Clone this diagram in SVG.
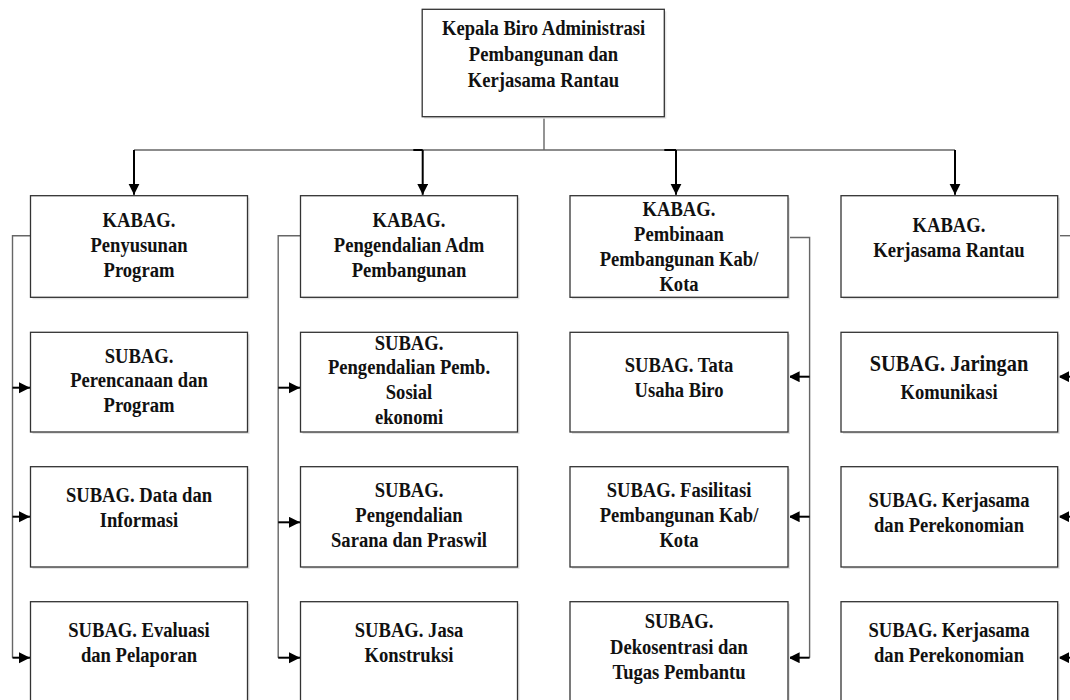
<svg xmlns="http://www.w3.org/2000/svg" width="1070" height="700" viewBox="0 0 1070 700">
  <style>
    .box { fill: #ffffff; stroke: #333333; stroke-width: 1.3; }
    .shd { fill: #e4e4e4; stroke: none; }
    .t { font-family: "Liberation Serif", "Times New Roman", serif; font-weight: bold; font-size: 21.5px; text-anchor: middle; fill: #111111; }
    .big { font-size: 23.6px; }
    .ln { fill: none; stroke: #666666; stroke-width: 1.4; }
    .ar { fill: none; stroke: #000000; stroke-width: 2; marker-end: url(#ah); }
    .stub { fill: none; stroke: #000000; stroke-width: 2; }
  </style>
  <defs>
    <marker id="ah" markerUnits="userSpaceOnUse" markerWidth="12" markerHeight="12" refX="11" refY="5.5" orient="auto">
      <path d="M0,0 L11,5.5 L0,11 Z" fill="#000000"/>
    </marker>
  </defs>
  <rect x="0" y="0" width="1070" height="700" fill="#ffffff"/>

  <g id="connectors">
    <path class="ln" d="M544,116.7 V150"/>
    <path class="ln" d="M134,150 H955"/>
    <path class="stub" d="M413.3,150 H422.7"/>
    <path class="stub" d="M664.3,150 H676"/>
    <path class="ar" d="M134,150 V194.8"/>
    <path class="ar" d="M422.7,150 V194.8"/>
    <path class="ar" d="M676,150 V194.8"/>
    <path class="ar" d="M955,150 V194.8"/>

    <path class="ln" d="M30.5,235.7 H12.5 V657.7"/>
    <path class="ar" d="M12.5,387.7 H30"/>
    <path class="ar" d="M12.5,516.7 H30"/>
    <path class="ar" d="M12.5,657.7 H30"/>

    <path class="ln" d="M300.5,235.7 H278.2 V657.7"/>
    <path class="ar" d="M278.2,387.7 H300"/>
    <path class="ar" d="M278.2,522.3 H300"/>
    <path class="ar" d="M278.2,657.7 H300"/>

    <path class="ln" d="M788,237.5 H809.6 V657.7"/>
    <path class="ar" d="M809.6,376.7 H788.6"/>
    <path class="ar" d="M809.6,516.7 H788.6"/>
    <path class="ar" d="M809.6,657.7 H788.6"/>

    <path class="ln" d="M1057.7,235.7 H1080"/>
    <path class="ar" d="M1080,376.7 H1058.3"/>
    <path class="ar" d="M1080,516.7 H1058.3"/>
    <path class="ar" d="M1080,657.7 H1058.3"/>
  </g>

  <g id="kepala">
    <rect class="shd" x="424.2" y="11.3" width="242.1" height="107.4"/>
    <rect class="box" x="422.2" y="9.3" width="242.1" height="107.4"/>
    <text class="t" transform="translate(543.5 0) scale(0.865 1)"><tspan x="0" y="35">Kepala Biro Administrasi</tspan><tspan x="0" y="61">Pembangunan dan</tspan><tspan x="0" y="86.7">Kerjasama Rantau</tspan></text>
  </g>

  <g id="kabag-penyusunan">
    <rect class="shd" x="32.5" y="197.7" width="217" height="101.6"/>
    <rect class="box" x="30.5" y="195.7" width="217" height="101.6"/>
    <text class="t" transform="translate(139 0) scale(0.865 1)"><tspan x="0" y="227.5">KABAG.</tspan><tspan x="0" y="252.5">Penyusunan</tspan><tspan x="0" y="277.5">Program</tspan></text>
  </g>
  <g id="kabag-pengendalian">
    <rect class="shd" x="302.5" y="197.7" width="217" height="101.6"/>
    <rect class="box" x="300.5" y="195.7" width="217" height="101.6"/>
    <text class="t" transform="translate(409 0) scale(0.865 1)"><tspan x="0" y="227.5">KABAG.</tspan><tspan x="0" y="252.5">Pengendalian Adm</tspan><tspan x="0" y="277.5">Pembangunan</tspan></text>
  </g>
  <g id="kabag-pembinaan">
    <rect class="shd" x="572" y="197.7" width="218" height="101.6"/>
    <rect class="box" x="570" y="195.7" width="218" height="101.6"/>
    <text class="t" transform="translate(679 0) scale(0.865 1)"><tspan x="0" y="216">KABAG.</tspan><tspan x="0" y="241">Pembinaan</tspan><tspan x="0" y="266">Pembangunan Kab/</tspan><tspan x="0" y="291">Kota</tspan></text>
  </g>
  <g id="kabag-kerjasama">
    <rect class="shd" x="843" y="197.7" width="217" height="101.6"/>
    <rect class="box" x="841" y="195.7" width="216.7" height="101.6"/>
    <text class="t" transform="translate(949 0) scale(0.865 1)"><tspan x="0" y="232.3">KABAG.</tspan><tspan x="0" y="257">Kerjasama Rantau</tspan></text>
  </g>

  <g id="subag-perencanaan">
    <rect class="shd" x="32.5" y="334.3" width="217" height="99.7"/>
    <rect class="box" x="30.5" y="332.3" width="217" height="99.7"/>
    <text class="t" transform="translate(139 0) scale(0.865 1)"><tspan x="0" y="362.7">SUBAG.</tspan><tspan x="0" y="387">Perencanaan dan</tspan><tspan x="0" y="411.7">Program</tspan></text>
  </g>
  <g id="subag-data">
    <rect class="shd" x="32.5" y="468.7" width="217" height="100.3"/>
    <rect class="box" x="30.5" y="466.7" width="217" height="100.3"/>
    <text class="t" transform="translate(139 0) scale(0.865 1)"><tspan x="0" y="501.7">SUBAG. Data dan</tspan><tspan x="0" y="526.7">Informasi</tspan></text>
  </g>
  <g id="subag-evaluasi">
    <rect class="shd" x="32.5" y="603.7" width="217" height="101"/>
    <rect class="box" x="30.5" y="601.7" width="217" height="101"/>
    <text class="t" transform="translate(139 0) scale(0.865 1)"><tspan x="0" y="636.7">SUBAG. Evaluasi</tspan><tspan x="0" y="661.7">dan Pelaporan</tspan></text>
  </g>

  <g id="subag-sosial-ekonomi">
    <rect class="shd" x="302.5" y="334.3" width="217" height="99.7"/>
    <rect class="box" x="300.5" y="332.3" width="217" height="99.7"/>
    <text class="t" transform="translate(409 0) scale(0.865 1)"><tspan x="0" y="350">SUBAG.</tspan><tspan x="0" y="374.5">Pengendalian Pemb.</tspan><tspan x="0" y="399.3">Sosial</tspan><tspan x="0" y="424">ekonomi</tspan></text>
  </g>
  <g id="subag-sarana">
    <rect class="shd" x="302.5" y="468.7" width="217" height="100.3"/>
    <rect class="box" x="300.5" y="466.7" width="217" height="100.3"/>
    <text class="t" transform="translate(409 0) scale(0.865 1)"><tspan x="0" y="497">SUBAG.</tspan><tspan x="0" y="522">Pengendalian</tspan><tspan x="0" y="547.5">Sarana dan Praswil</tspan></text>
  </g>
  <g id="subag-jasa">
    <rect class="shd" x="302.5" y="603.7" width="217" height="101"/>
    <rect class="box" x="300.5" y="601.7" width="217" height="101"/>
    <text class="t" transform="translate(409 0) scale(0.865 1)"><tspan x="0" y="636.7">SUBAG. Jasa</tspan><tspan x="0" y="661.7">Konstruksi</tspan></text>
  </g>

  <g id="subag-tata-usaha">
    <rect class="shd" x="572" y="334.3" width="218" height="99.7"/>
    <rect class="box" x="570" y="332.3" width="218" height="99.7"/>
    <text class="t" transform="translate(679 0) scale(0.865 1)"><tspan x="0" y="371.7">SUBAG. Tata</tspan><tspan x="0" y="396.7">Usaha Biro</tspan></text>
  </g>
  <g id="subag-fasilitasi">
    <rect class="shd" x="572" y="468.7" width="218" height="100.3"/>
    <rect class="box" x="570" y="466.7" width="218" height="100.3"/>
    <text class="t" transform="translate(679 0) scale(0.865 1)"><tspan x="0" y="497">SUBAG. Fasilitasi</tspan><tspan x="0" y="522">Pembangunan Kab/</tspan><tspan x="0" y="547.5">Kota</tspan></text>
  </g>
  <g id="subag-dekosentrasi">
    <rect class="shd" x="572" y="603.7" width="218" height="101"/>
    <rect class="box" x="570" y="601.7" width="218" height="101"/>
    <text class="t" transform="translate(679 0) scale(0.865 1)"><tspan x="0" y="628.3">SUBAG.</tspan><tspan x="0" y="654">Dekosentrasi dan</tspan><tspan x="0" y="679.3">Tugas Pembantu</tspan></text>
  </g>

  <g id="subag-jaringan">
    <rect class="shd" x="843" y="334.3" width="216.7" height="99.7"/>
    <rect class="box" x="841" y="332.3" width="216.7" height="99.7"/>
    <text class="t" transform="translate(949 0) scale(0.865 1)"><tspan class="big" x="0" y="371">SUBAG. Jaringan</tspan><tspan x="0" y="399">Komunikasi</tspan></text>
  </g>
  <g id="subag-kerjasama-1">
    <rect class="shd" x="843" y="468.7" width="216.7" height="100.3"/>
    <rect class="box" x="841" y="466.7" width="216.7" height="100.3"/>
    <text class="t" transform="translate(949 0) scale(0.865 1)"><tspan x="0" y="506.7">SUBAG. Kerjasama</tspan><tspan x="0" y="531.7">dan Perekonomian</tspan></text>
  </g>
  <g id="subag-kerjasama-2">
    <rect class="shd" x="843" y="603.7" width="216.7" height="101"/>
    <rect class="box" x="841" y="601.7" width="216.7" height="101"/>
    <text class="t" transform="translate(949 0) scale(0.865 1)"><tspan x="0" y="636.7">SUBAG. Kerjasama</tspan><tspan x="0" y="661.7">dan Perekonomian</tspan></text>
  </g>
</svg>
